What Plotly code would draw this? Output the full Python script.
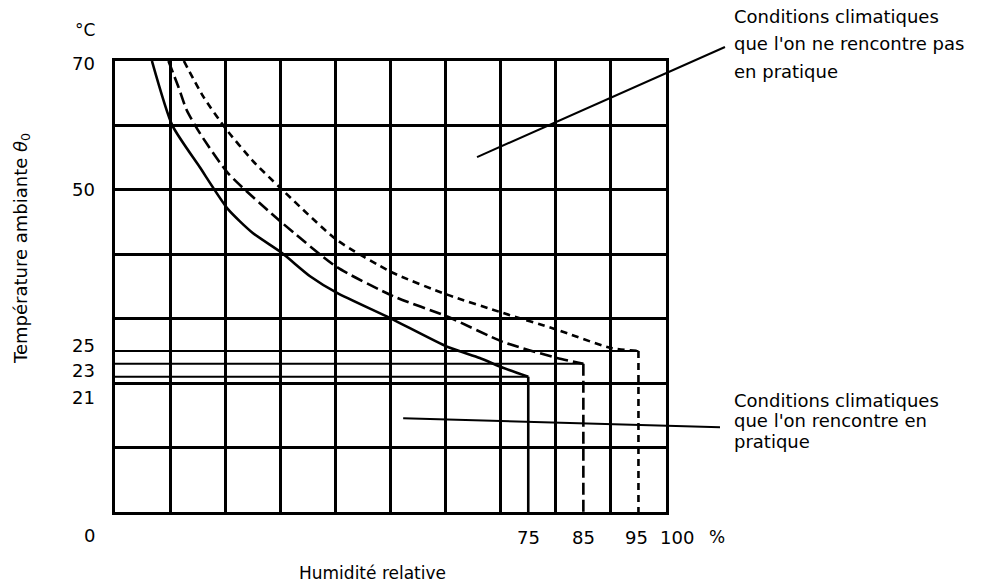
import plotly.graph_objects as go

# ---- data ----
rh_75_x = [6.7, 10.4, 15.4, 20.5, 25.0, 30.3, 35.4, 40.3, 49.9, 60.4, 66.2, 70.4, 75.0]
rh_75_y = [70.0, 60.0, 53.5, 47.0, 43.3, 40.2, 36.6, 34.0, 30.1, 25.6, 23.9, 22.4, 21.0]

rh_85_x = [9.7, 11.5, 13.0, 15.4, 20.5, 30.3, 40.3, 50.5, 60.4, 70.4, 80.2, 85.0]
rh_85_y = [70.0, 66.0, 62.4, 58.8, 52.6, 44.9, 38.0, 33.5, 30.3, 26.4, 23.9, 23.0]

rh_95_x = [12.5, 16.0, 20.0, 25.0, 30.0, 40.3, 50.5, 60.4, 70.4, 80.2, 89.8, 95.0]
rh_95_y = [70.0, 64.5, 59.6, 54.5, 50.3, 42.2, 37.1, 33.7, 30.9, 28.3, 25.5, 25.0]

rh_limits = [75, 85, 95]
temp_limits = [21, 23, 25]
dash_styles = ["solid", "12px,5px", "7px,5px"]

y_tick_vals = [70, 50, 25, 23, 21, 0]
y_tick_text = ["70", "50", "25", "23", "21", "0"]
y_tick_shift = [-2, 0, 5, -7, -21, -23]

x_tick_vals = [75, 85, 95, 100]
x_tick_text = ["75", "85", "95", "100"]
x_tick_shift = [0, 0, -2, 11]

note_high = ["Conditions climatiques", "que l'on ne rencontre pas", "en pratique"]
note_low = ["Conditions climatiques", "que l'on rencontre en", "pratique"]

FONT = "DejaVu Sans"

fig = go.Figure()

curves = [(rh_75_x, rh_75_y), (rh_85_x, rh_85_y), (rh_95_x, rh_95_y)]
for (cx, cy), rh, t, dash in zip(curves, rh_limits, temp_limits, dash_styles):
    # horizontal limit line at the temperature
    fig.add_trace(go.Scatter(x=[0, rh], y=[t, t], mode="lines",
                             line=dict(color="black", width=2), hoverinfo="skip",
                             showlegend=False))
    # the curve
    fig.add_trace(go.Scatter(x=cx, y=cy, mode="lines",
                             line=dict(color="black", width=2.6, dash=dash, shape="spline",
                                       smoothing=0.6),
                             hoverinfo="skip", showlegend=False))
    # vertical drop at the humidity limit
    fig.add_trace(go.Scatter(x=[rh, rh], y=[t, 0], mode="lines",
                             line=dict(color="black", width=2.6, dash=dash),
                             hoverinfo="skip", showlegend=False))

axis_common = dict(showgrid=True, gridcolor="black", gridwidth=2.5, zeroline=False,
                   showline=True, linecolor="black", linewidth=2.5, mirror=True,
                   showticklabels=False, ticks="", dtick=10, tick0=0)
fig.update_xaxes(range=[0, 100], **axis_common)
fig.update_yaxes(range=[0, 70], **axis_common)

ann = []
for v, txt, sh in zip(y_tick_vals, y_tick_text, y_tick_shift):
    ann.append(dict(x=0, y=v, xref="x", yref="y", text=txt, showarrow=False,
                    xanchor="right", yanchor="middle", xshift=-18, yshift=sh,
                    font=dict(family=FONT, size=18, color="black")))
ann.append(dict(x=0, y=70, xref="x", yref="y", text="°C", showarrow=False,
                xanchor="right", yanchor="middle", xshift=-18, yshift=31,
                font=dict(family=FONT, size=17, color="black")))
for v, txt, sh in zip(x_tick_vals, x_tick_text, x_tick_shift):
    ann.append(dict(x=v, y=0, xref="x", yref="y", text=txt, showarrow=False,
                    xanchor="center", yanchor="middle", xshift=sh, yshift=-25,
                    font=dict(family=FONT, size=18, color="black")))
ann.append(dict(x=100, y=0, xref="x", yref="y", text="%", showarrow=False,
                xanchor="center", yanchor="middle", xshift=51, yshift=-25,
                font=dict(family=FONT, size=17, color="black")))
ann.append(dict(x=0.468, y=-0.135, xref="paper", yref="paper", text="Humidité relative",
                showarrow=False, xanchor="center", yanchor="middle",
                font=dict(family=FONT, size=17, color="black")))
ann.append(dict(x=-0.169, y=0.585, xref="paper", yref="paper",
                text="Température ambiante <i>θ</i><sub>0</sub>", textangle=-90,
                showarrow=False, xanchor="center", yanchor="middle",
                font=dict(family=FONT, size=18, color="black")))
for line, yp in zip(note_high, [1.098, 1.038, 0.976]):
    ann.append(dict(x=1.12, y=yp, xref="paper", yref="paper", text=line,
                    showarrow=False, xanchor="left", yanchor="middle",
                    font=dict(family=FONT, size=18, color="black")))
for line, yp in zip(note_low, [0.248, 0.202, 0.157]):
    ann.append(dict(x=1.12, y=yp, xref="paper", yref="paper", text=line,
                    showarrow=False, xanchor="left", yanchor="middle",
                    font=dict(family=FONT, size=18, color="black")))

shapes = [
    dict(type="line", xref="paper", yref="paper", x0=0.657, y0=0.787, x1=1.107, y1=1.031,
         line=dict(color="black", width=2)),
    dict(type="line", xref="paper", yref="paper", x0=0.523, y0=0.208, x1=1.098, y1=0.188,
         line=dict(color="black", width=2)),
]

fig.update_layout(
    width=975, height=579,
    margin=dict(l=107, r=317, t=53, b=75),
    plot_bgcolor="white", paper_bgcolor="white",
    annotations=ann, shapes=shapes,
    font=dict(family=FONT, color="black"),
)

fig.write_html("out.html")
